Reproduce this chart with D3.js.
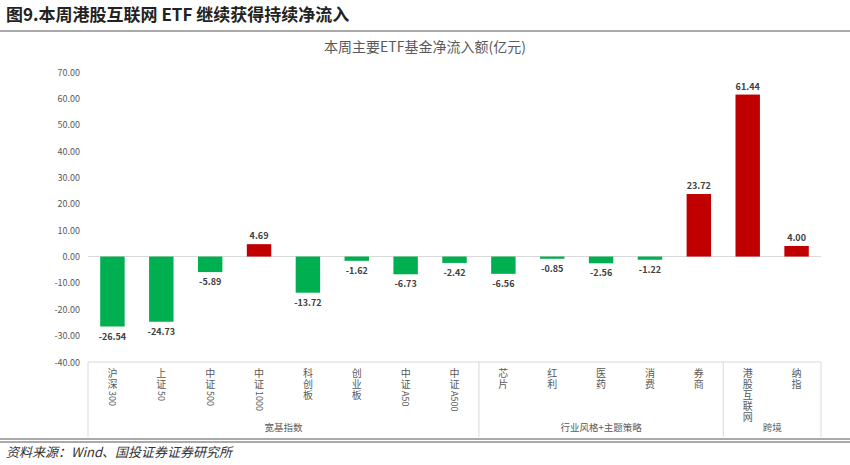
<!DOCTYPE html><html><head><meta charset="utf-8"><script src="https://cdn.jsdelivr.net/npm/d3@7"></script>
<style>body{margin:0;background:#fff}text{font-family:"Noto Sans CJK SC","Noto Sans",sans-serif}</style></head><body>
<svg id="c" width="850" height="465"></svg>
<script>
const categories=["沪深300","上证50","中证500","中证1000","科创板","创业板","中证A50","中证A500","芯片","红利","医药","消费","券商","港股互联网","纳指"];
const values=[-26.54,-24.73,-5.89,4.69,-13.72,-1.62,-6.73,-2.42,-6.56,-0.85,-2.56,-1.22,23.72,61.44,4.00];
const groups=[{name:"宽基指数",from:0,to:7},{name:"行业风格+主题策略",from:8,to:12},{name:"跨境",from:13,to:14}];
const yTicks=[70,60,50,40,30,20,10,0,-10,-20,-30,-40];
const svg=d3.select("#c");
const L=88,R=821,T=72,B=362;
const x=d3.scaleBand().domain(categories).range([L,R]).paddingInner(0.5).paddingOuter(0.25);
const xb=d3.scaleBand().domain(categories).range([L,R]);
const y=d3.scaleLinear().domain([-40,70]).range([B,T]);
svg.append("text").attr("x",6).attr("y",21).attr("font-size",17).attr("font-weight","bold").attr("fill","#222").text("图9.本周港股互联网 ETF 继续获得持续净流入");
svg.append("line").attr("x1",0).attr("x2",850).attr("y1",31).attr("y2",31).attr("stroke","#555").attr("stroke-width",1.2);
svg.append("text").attr("x",425).attr("y",52).attr("text-anchor","middle").attr("font-size",14).attr("fill","#595959").text("本周主要ETF基金净流入额(亿元)");
svg.selectAll(".yt").data(yTicks).join("text").attr("x",80).attr("y",d=>y(d)+3.5).attr("text-anchor","end").attr("font-size",9).attr("fill","#595959").text(d=>d.toFixed(2));
svg.append("line").attr("x1",L).attr("x2",R).attr("y1",y(0)).attr("y2",y(0)).attr("stroke","#d9d9d9");
svg.selectAll(".bar").data(values).join("rect").attr("x",(d,i)=>x(categories[i])).attr("width",x.bandwidth())
 .attr("y",d=>y(Math.max(0,d))).attr("height",d=>Math.abs(y(d)-y(0))).attr("fill",d=>d<0?"#00B050":"#C00000");
svg.selectAll(".lbl").data(values).join("text").attr("x",(d,i)=>xb(categories[i])+xb.bandwidth()/2)
 .attr("y",d=>d<0?y(d)+13:y(d)-5).attr("text-anchor","middle").attr("font-size",9).attr("font-weight","bold").attr("fill","#404040").text(d=>d.toFixed(2));
// vertical category labels: CJK upright, latin runs rotated
const fs=10;
categories.forEach(c=>{
  const cx=xb(c)+xb.bandwidth()/2;
  let yy=368;
  const runs=c.match(/[A-Za-z0-9]+|[^A-Za-z0-9]/g);
  runs.forEach(r=>{
    if(/[A-Za-z0-9]/.test(r)){
      const w=r.length*fs*0.6;
      svg.append("text").attr("transform",`translate(${cx-3.5},${yy+1}) rotate(90)`).attr("font-size",fs-1).attr("fill","#595959").text(r);
      yy+=w+2;
    } else {
      svg.append("text").attr("x",cx).attr("y",yy+fs-1).attr("text-anchor","middle").attr("font-size",fs).attr("fill","#595959").text(r);
      yy+=fs+1;
    }
  });
});
const seps=[L,xb(categories[8]),xb(categories[13]),R];
svg.selectAll(".sep").data(seps).join("line").attr("x1",d=>d).attr("x2",d=>d).attr("y1",B).attr("y2",437).attr("stroke","#d9d9d9");
svg.append("line").attr("x1",L).attr("x2",R).attr("y1",B).attr("y2",B).attr("stroke","#d9d9d9");
svg.selectAll(".gl").data(groups).join("text").attr("x",g=>(xb(categories[g.from])+xb(categories[g.to])+xb.bandwidth())/2).attr("y",431)
 .attr("text-anchor","middle").attr("font-size",9.5).attr("fill","#595959").text(g=>g.name);
svg.append("line").attr("x1",0).attr("x2",850).attr("y1",439).attr("y2",439).attr("stroke","#555").attr("stroke-width",1);
svg.append("line").attr("x1",0).attr("x2",850).attr("y1",442).attr("y2",442).attr("stroke","#555").attr("stroke-width",1);
svg.append("text").attr("x",6).attr("y",457).attr("font-size",13).attr("font-style","italic").attr("fill","#333").text("资料来源：Wind、国投证券证券研究所");
</script></body></html>
